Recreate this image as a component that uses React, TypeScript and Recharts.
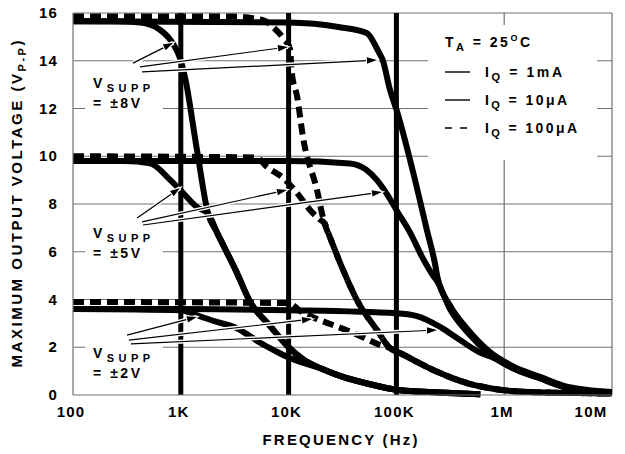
import React from "react";
import { LineChart, Line, XAxis, YAxis, ReferenceLine } from "recharts";

const FONT = "'Liberation Sans', Arial, Helvetica, sans-serif";

// axes
const freqTicks = [100, 1e3, 1e4, 1e5, 1e6, 1e7];
const freqLabels = ["100", "1K", "10K", "100K", "1M", "10M"];
const voltTicks = [0, 2, 4, 6, 8, 10, 12, 14, 16];
const gridVolts = [2, 4, 6, 8, 10, 12, 14];
const thinFreqs = [1e6];
const thickFreqs = [1e3, 1e4, 1e5];

// [Hz, Vp-p]  IQ = 10uA (solid, lowest bandwidth)
const tail10u: [number, number][] = [
  [19500, 1.13], [30000, 0.8], [57000, 0.45], [100000, 0.22], [250000, 0.1], [600000, 0.03],
];
const mid10u: [number, number][] = [
  [2170, 6.8], [3250, 5.2], [4400, 3.9], [6700, 2.9], [10000, 2.0], [13600, 1.5],
];
const supp8Iq10u: [number, number][] = [
  [100, 15.65], [250, 15.65], [420, 15.6], [640, 15.3], [850, 14.7], [985, 14.1],
  [1094, 13.3], [1413, 10.26], [1790, 7.6],
];
const supp5Iq10u: [number, number][] = [
  [100, 9.8], [300, 9.8], [520, 9.7], [800, 9.0], [1050, 8.46], [1410, 7.87], [1790, 7.6],
];
const supp2Iq10u: [number, number][] = [
  [100, 3.6], [1000, 3.55], [1300, 3.4], [1500, 3.3], [2200, 3.05], [3300, 2.8], [4100, 2.55],
  [5400, 2.2], [7500, 1.85], [9700, 1.6], [13600, 1.35],
];

// IQ = 100uA (dashed)
const mid100u: [number, number][] = [
  [24200, 6.6], [32000, 5.24], [43000, 3.98], [66000, 2.72], [87000, 1.97],
];
const tail100u: [number, number][] = [
  [108000, 1.76], [219000, 1.05], [452000, 0.5], [912000, 0.22], [1850000, 0.12],
  [5000000, 0.08], [10000000, 0.06],
];
const supp8Iq100u: [number, number][] = [
  [100, 15.85], [3000, 15.85], [5800, 15.7], [7200, 15.4], [8900, 14.95], [10300, 14.5],
  [10700, 13.5], [12000, 12.5], [13600, 10.8], [18300, 8.6], [21500, 7.2],
];
const supp5Iq100u: [number, number][] = [
  [100, 10.0], [5000, 9.95], [6300, 9.55], [8900, 9.09], [12000, 8.46], [15800, 7.75],
  [19500, 7.35], [21500, 7.2],
];
const supp2Iq100u: [number, number][] = [
  [100, 3.9], [10000, 3.85], [13000, 3.5], [17000, 3.25], [25000, 2.95], [35000, 2.7],
  [50000, 2.4], [70000, 2.1], [87000, 1.97],
];

// IQ = 1mA (solid, highest bandwidth)
const supp8Iq1m: [number, number][] = [
  [100, 15.65], [10000, 15.6], [30000, 15.4], [53000, 15.16], [67000, 14.45], [75000, 14.0],
  [87000, 12.8], [101000, 11.9], [149000, 9.0], [192000, 6.9], [228000, 5.5], [240000, 4.95],
  [314000, 3.75], [452000, 2.78], [738000, 1.8], [1210000, 1.2], [2150000, 0.76],
  [3800000, 0.35], [10000000, 0.13],
];
const tail1m: [number, number][] = [
  [1210000, 1.12], [2150000, 0.7], [3800000, 0.31], [10000000, 0.1],
];
const supp5Iq1m: [number, number][] = [
  [100, 9.8], [10000, 9.8], [37000, 9.7], [52000, 9.45], [66000, 9.0], [93000, 8.0],
  [100000, 7.75], [134000, 6.8], [177000, 5.7], [219000, 5.0], [240000, 4.75],
  [314000, 3.6], [452000, 2.65], [738000, 1.72],
];
const supp2Iq1m: [number, number][] = [
  [100, 3.6], [1000, 3.6], [10000, 3.55], [100000, 3.42], [155000, 3.3], [254000, 2.85],
  [365000, 2.39], [596000, 1.78], [738000, 1.62],
];

// arrows from the VSUPP labels to the curves: [from Hz, from V, to Hz, to V]
const arrows: [number, number, number, number][] = [
  [360, 13.9, 850, 14.75],
  [419, 13.74, 9860, 14.58],
  [437, 13.53, 66000, 14.03],
  [393, 7.41, 984, 8.67],
  [437, 7.25, 9660, 8.59],
  [446, 7.12, 73500, 8.5],
  [317, 2.51, 1410, 3.27],
  [330, 2.3, 16500, 3.18],
  [345, 2.14, 238000, 2.72],
];

const pts = (...parts: [number, number][][]) => parts.flat().map(([f, v]) => ({ f, v }));

const XTick = (props: any) => {
  const { x, y, payload } = props;
  const i = freqTicks.indexOf(payload.value);
  return (
    <text x={x - 2} y={y + 22} textAnchor="middle" fontFamily={FONT} fontWeight="bold" fontSize={15} letterSpacing={1.2} fill="#000">
      {freqLabels[i]}
    </text>
  );
};

const YTick = (props: any) => {
  const { x, y, payload } = props;
  return (
    <text x={x} y={y + 5} textAnchor="end" fontFamily={FONT} fontWeight="bold" fontSize={15} letterSpacing={1.2} fill="#000">
      {payload.value}
    </text>
  );
};

const haloShape = (p: any) => (
  <line x1={p.x1} y1={p.y1} x2={p.x2} y2={p.y2} stroke="#fff" strokeWidth={4} />
);

const arrowShape = (p: any) => {
  const { x1, y1, x2, y2 } = p;
  const dx = x2 - x1;
  const dy = y2 - y1;
  const len = Math.hypot(dx, dy) || 1;
  const ux = dx / len;
  const uy = dy / len;
  const hl = 10;
  const hw = 3.2;
  const bx = x2 - ux * hl;
  const by = y2 - uy * hl;
  const head = `${x2},${y2} ${bx - uy * hw},${by + ux * hw} ${bx + uy * hw},${by - ux * hw}`;
  return (
    <g>
      <line x1={x1} y1={y1} x2={bx} y2={by} stroke="#000" strokeWidth={1.2} />
      <polygon points={head} fill="#000" stroke="#fff" strokeWidth={2} style={{ paintOrder: "stroke" }} />
    </g>
  );
};

const GRID = "#707070";
const W = 6;
const DASH = "11 6";

export default function App() {
  return (
    <div style={{ position: "absolute", left: 0, top: 0, width: 625, height: 454, background: "#fff" }}>
      <LineChart width={625} height={454} margin={{ top: 13, right: 13, bottom: 0, left: 0 }}>
        <XAxis
          dataKey="f"
          type="number"
          scale="log"
          domain={[100, 1e7]}
          ticks={freqTicks}
          allowDataOverflow
          height={59}
          tickLine={false}
          tickSize={0}
          tickMargin={0}
          axisLine={{ stroke: GRID, strokeWidth: 1.2 }}
          tick={<XTick />}
        />
        <YAxis
          type="number"
          domain={[0, 16]}
          ticks={voltTicks}
          width={73}
          tickLine={false}
          tickSize={0}
          tickMargin={15}
          axisLine={{ stroke: GRID, strokeWidth: 1.2 }}
          tick={<YTick />}
        />
        {gridVolts.map((v) => (
          <ReferenceLine key={"h" + v} y={v} stroke={GRID} strokeWidth={1.2} />
        ))}
        <ReferenceLine y={16} stroke={GRID} strokeWidth={1.2} />
        <ReferenceLine x={1e7} stroke={GRID} strokeWidth={1.2} />
        {thinFreqs.map((f) => (
          <ReferenceLine key={"v" + f} x={f} stroke={GRID} strokeWidth={1.2} />
        ))}
        {thickFreqs.map((f) => (
          <ReferenceLine key={"t" + f} x={f} stroke="#000" strokeWidth={5} />
        ))}

        <Line data={pts(supp8Iq10u, mid10u, tail10u)} dataKey="v" stroke="#000" strokeWidth={W} dot={false} type="monotone" isAnimationActive={false} strokeLinejoin="round" />
        <Line data={pts(supp5Iq10u, mid10u, tail10u)} dataKey="v" stroke="#000" strokeWidth={W} dot={false} type="monotone" isAnimationActive={false} strokeLinejoin="round" />
        <Line data={pts(supp2Iq10u, tail10u)} dataKey="v" stroke="#000" strokeWidth={W} dot={false} type="monotone" isAnimationActive={false} strokeLinejoin="round" />

        <Line data={pts(supp8Iq1m)} dataKey="v" stroke="#000" strokeWidth={W} dot={false} type="monotone" isAnimationActive={false} strokeLinejoin="round" />
        <Line data={pts(supp5Iq1m, tail1m)} dataKey="v" stroke="#000" strokeWidth={W} dot={false} type="monotone" isAnimationActive={false} strokeLinejoin="round" />
        <Line data={pts(supp2Iq1m, tail1m)} dataKey="v" stroke="#000" strokeWidth={W} dot={false} type="monotone" isAnimationActive={false} strokeLinejoin="round" />

        <Line data={pts(supp8Iq100u, mid100u, tail100u)} dataKey="v" stroke="#000" strokeWidth={W} strokeDasharray={DASH} dot={false} type="monotone" isAnimationActive={false} />
        <Line data={pts(supp5Iq100u, mid100u, tail100u)} dataKey="v" stroke="#000" strokeWidth={W} strokeDasharray={DASH} dot={false} type="monotone" isAnimationActive={false} />
        <Line data={pts(supp2Iq100u, tail100u)} dataKey="v" stroke="#000" strokeWidth={W} strokeDasharray={DASH} dot={false} type="monotone" isAnimationActive={false} />

        {arrows.map(([f1, v1, f2, v2], i) => (
          <ReferenceLine key={"ah" + i} segment={[{ x: f1, y: v1 }, { x: f2, y: v2 }]} ifOverflow="visible" shape={haloShape} />
        ))}
        {arrows.map(([f1, v1, f2, v2], i) => (
          <ReferenceLine key={"a" + i} segment={[{ x: f1, y: v1 }, { x: f2, y: v2 }]} ifOverflow="visible" shape={arrowShape} />
        ))}
      </LineChart>

      <svg width={625} height={454} style={{ position: "absolute", left: 0, top: 0, pointerEvents: "none" }} fontFamily={FONT} fontWeight="bold" fill="#000">
        <rect x={428} y={25} width={169} height={135} fill="#fff" />
        <rect x={85} y={74} width={78} height={38} fill="#fff" />
        <rect x={85} y={227} width={78} height={36} fill="#fff" />
        <rect x={85} y={346} width={78} height={36} fill="#fff" />

        <text x={445} y={47} fontSize={14} textLength={85} lengthAdjust="spacing">
          T<tspan fontSize={11} dy={4}>A</tspan>
          <tspan dy={-4}> = 25</tspan>
          <tspan fontSize={9} dy={-6}>O</tspan>
          <tspan dy={6}>C</tspan>
        </text>
        <line x1={445} y1={72} x2={470} y2={72} stroke="#000" strokeWidth={1.4} />
        <line x1={445} y1={100} x2={470} y2={100} stroke="#000" strokeWidth={1.4} />
        <line x1={445} y1={128} x2={470} y2={128} stroke="#000" strokeWidth={1.4} strokeDasharray="7 8" />
        <text x={485} y={77} fontSize={14} textLength={77} lengthAdjust="spacing">
          I<tspan fontSize={11} dy={4}>Q</tspan>
          <tspan dy={-4}> = 1mA</tspan>
        </text>
        <text x={485} y={105} fontSize={14} textLength={82} lengthAdjust="spacing">
          I<tspan fontSize={11} dy={4}>Q</tspan>
          <tspan dy={-4}> = 10μA</tspan>
        </text>
        <text x={485} y={133} fontSize={14} textLength={92} lengthAdjust="spacing">
          I<tspan fontSize={11} dy={4}>Q</tspan>
          <tspan dy={-4}> = 100μA</tspan>
        </text>

        {[
          { y: 88, s: "= ±8V" },
          { y: 238, s: "= ±5V" },
          { y: 358, s: "= ±2V" },
        ].map((l) => (
          <g key={l.s}>
            <text x={93} y={l.y} fontSize={14} textLength={57} lengthAdjust="spacing">
              V<tspan fontSize={11} dy={4}>SUPP</tspan>
            </text>
            <text x={93} y={l.y + 20} fontSize={14} textLength={47} lengthAdjust="spacing">
              {l.s}
            </text>
          </g>
        ))}

        <text x={340} y={445} fontSize={15} textAnchor="middle" textLength={155} lengthAdjust="spacing">
          FREQUENCY (Hz)
        </text>
        <text transform="translate(21.5,204) rotate(-90)" x={0} y={0} fontSize={15} textAnchor="middle" textLength={327} lengthAdjust="spacing">
          MAXIMUM OUTPUT VOLTAGE (V<tspan fontSize={11} dy={4}>P-P</tspan>
          <tspan dy={-4}>)</tspan>
        </text>
      </svg>
    </div>
  );
}
